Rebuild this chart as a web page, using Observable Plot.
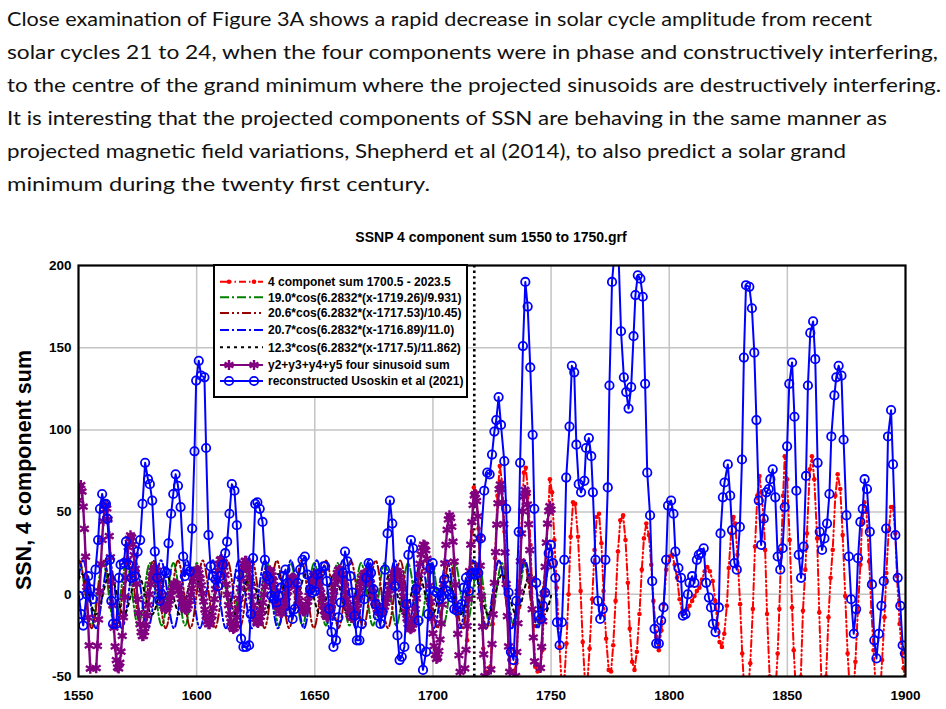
<!DOCTYPE html>
<html><head><meta charset="utf-8">
<script src="https://cdn.jsdelivr.net/npm/d3@7"></script>
<script src="https://cdn.jsdelivr.net/npm/@observablehq/plot@0.6"></script>
<style>
html,body{margin:0;padding:0;background:#fff;}
body{width:946px;height:709px;overflow:hidden;position:relative;}
#para{position:absolute;left:0;top:0;}
#title{position:absolute;left:0;top:229px;width:982px;text-align:center;font-family:"Liberation Sans",Arial,sans-serif;font-weight:bold;font-size:14px;color:#000;}
#chart{position:absolute;left:0;top:245px;}
</style></head><body>
<svg id="para" width="946" height="205"></svg>
<div id="title">SSNP 4 component sum 1550 to 1750.grf</div>
<div id="chart"></div>
<script>
// ---------- text ----------
const paraLines = [
 "Close examination of Figure 3A shows a rapid decrease in solar cycle amplitude from recent",
 "solar cycles 21 to 24, when the four components were in phase and constructively interfering,",
 "to the centre of the grand minimum where the projected sinusoids are destructively interfering.",
 "It is interesting that the projected components of SSN are behaving in the same manner as",
 "projected magnetic field variations, Shepherd et al (2014), to also predict a solar grand",
 "minimum during the twenty first century."
];
const paraEnds = [872, 938, 941, 887, 846, 430];
const legendLabels = [
 "4 componet sum 1700.5 - 2023.5",
 "19.0*cos(6.2832*(x-1719.26)/9.931)",
 "20.6*cos(6.2832*(x-1717.53)/10.45)",
 "20.7*cos(6.2832*(x-1716.89)/11.0)",
 "12.3*cos(6.2832*(x-1717.5)/11.862)",
 "y2+y3+y4+y5 four sinusoid sum",
 "reconstructed Usoskin et al (2021)"
];
const yTitle = "SSN, 4 component sum";
const xTicks = [1550,1600,1650,1700,1750,1800,1850,1900];
const yTicks = [-50,0,50,100,150,200];
const markerYear = [1717.5];

// ---------- reconstructed Usoskin et al (2021) ----------
const usoYears = [1550.2,1551.1,1552,1553.4,1554.1,1555.1,1556.1,1557.2,1558.3,1559.1,1560,1560.9,1561.6,1562.2,1563.3,1563.9,1564.6,1566,1567.1,1567.8,1569.2,1570.1,1571.3,1572.3,1573.7,1575,1576.1,1577.1,1578.2,1579.4,1580.2,1581.2,1582.3,1583.3,1584.3,1585.2,1586.6,1587.3,1588.1,1589.2,1590.1,1591.1,1592.1,1593.2,1594.3,1595,1596,1597.1,1598.1,1599.1,1599.8,1600.9,1601.9,1603.3,1604,1605,1605.9,1606.9,1608,1609,1610,1611.1,1612.1,1612.9,1613.9,1614.9,1616,1617,1618,1618.8,1619.8,1621,1622.2,1622.9,1623.9,1624.8,1625.7,1626.7,1627.9,1628.9,1629.7,1630.7,1631.7,1632.8,1633.8,1634.6,1635.6,1636.6,1637.6,1638.6,1639.4,1640.6,1641.5,1642.7,1643.8,1644.8,1645.8,1646.9,1648,1648.9,1650,1651.1,1652.3,1653.7,1654.4,1655.1,1656.1,1657.1,1657.9,1659,1660,1661,1661.9,1662.8,1663.8,1665,1665.9,1666.8,1667.8,1668.9,1669.9,1670.9,1671.8,1672.8,1673.8,1674.8,1675.7,1676.7,1677.8,1678.6,1679.7,1680.8,1681.8,1682.8,1683.9,1685,1685.9,1686.8,1687.9,1688.9,1689.6,1690.7,1691.6,1692.8,1693.9,1694.6,1695.8,1697.1,1698,1698.9,1699.9,1700.6,1701.7,1702.8,1703.8,1704.8,1705.9,1706.9,1708,1709,1710.1,1711.2,1712.2,1713,1714,1715.3,1716.1,1716.9,1717.9,1719.2,1720.3,1721.7,1723,1724,1725,1726,1726.8,1727.8,1728.8,1730.2,1731,1732,1733,1734.1,1735.3,1736.3,1736.9,1738.1,1739.1,1740.1,1741.2,1742.2,1742.9,1743.7,1744.7,1745.7,1746.6,1747.5,1749,1749.9,1750.8,1751.8,1752.5,1753.6,1754.6,1755.6,1756.4,1757.8,1758.8,1759.8,1760.7,1761.7,1762.7,1764.1,1764.8,1766,1767,1767.7,1768.8,1769.8,1770.8,1771.9,1773,1774,1774.7,1775.8,1776.8,1777.8,1779.6,1780.8,1781.8,1782.8,1783.9,1784.9,1785.7,1786.7,1787.8,1788.8,1789.8,1790.7,1791.9,1792.8,1793.8,1794.5,1795.6,1796.6,1797.6,1798.7,1799.5,1800.8,1801.8,1802.6,1803.9,1805,1805.8,1806.9,1807.9,1808.6,1809.7,1810.7,1811.7,1812.5,1813.5,1814.6,1815.6,1816.8,1817.7,1818.5,1819.6,1821,1821.7,1822.7,1823.4,1824.8,1825.8,1826.6,1827.6,1828.6,1829.9,1830.8,1831.6,1832.5,1833.9,1835,1836,1836.9,1837.9,1838.9,1840,1841.1,1842.1,1842.8,1843.8,1844.9,1845.9,1847,1848,1848.9,1849.9,1850.8,1852,1853,1853.8,1854.8,1855.8,1856.9,1857.9,1858.7,1859.7,1860.9,1861.8,1862.8,1863.7,1864.7,1865.7,1866.8,1867.8,1868.6,1869.9,1870.7,1871.7,1872.9,1873.8,1875,1876,1877,1878.1,1879.1,1879.9,1880.9,1881.9,1882.7,1883.7,1884.9,1885.8,1886.8,1887.7,1888.7,1889.8,1890.8,1891.8,1892.6,1893.9,1894.7,1895.7,1896.7,1897.8,1898.8,1899.8];
const usoSSN = [-1,-12,-19,0,11,3,-3,15,33,52,61,55,55,46,21,-4,-18,-18,10,18,19,32,18,10,11,26,33,55,80,70,67,57,26,10,-4,0,14,13,31,49,61,73,66,53,23,11,15,14,40,87,130,142,133,132,89,36,17,11,9,5,11,18,25,32,49,67,63,42,12,-27,-32,-32,-31,-12,22,55,56,52,44,21,11,9,-1,-3,-5,-1,4,11,15,7,-11,-15,-9,7,15,21,23,12,3,1,2,12,13,17,17,8,-9,-23,-32,-28,-14,-5,13,26,20,11,1,-13,-28,-28,-18,-3,10,19,13,3,-6,-13,-18,-11,15,37,57,43,5,-25,-40,-38,-32,-6,24,33,28,3,-16,-33,-46,-35,-12,16,19,2,1,-3,-1,9,2,0,-2,-9,-10,-8,-6,4,10,2,12,13,12,13,34,63,74,73,85,99,106,120,103,81,52,1,-35,-40,-4,38,80,151,190,175,138,97,52,7,-13,-15,-7,1,25,30,19,10,-17,-31,-17,21,71,102,139,135,91,67,62,69,89,95,84,62,21,-4,-15,-9,21,65,127,190,207,240,160,132,123,113,126,157,182,194,192,181,128,74,48,8,-21,-30,-30,-16,-8,21,54,57,49,26,16,10,-13,-12,0,7,11,7,21,24,25,28,7,-2,-8,-18,-23,-8,37,59,68,79,60,39,19,15,41,82,144,188,187,174,147,106,57,30,46,62,64,70,76,59,23,15,28,53,90,128,141,108,63,24,10,29,72,127,159,166,143,80,38,27,34,43,61,96,121,132,139,133,94,48,23,-3,-24,-9,22,44,52,70,64,38,6,-28,-39,-24,-7,8,40,96,112,79,36,10,-7,-31,-36];

// ---------- 4 component sum (red) ----------
const sumYears = [1714.5,1715.5,1716.5,1717.3,1718.3,1719.3,1720.3,1721.3,1722.3,1723.3,1724.3,1725.3,1726.3,1727.3,1728.3,1729.3,1730.3,1731.3,1732.3,1733.3,1734.3,1735.3,1736.3,1737.3,1738.5,1739.3,1740.3,1741.3,1742.3,1743.3,1744.3,1745.3,1746.3,1747.3,1748.5,1749.5,1750.4,1751.4,1752.4,1753.6,1754.6,1755.5,1756.5,1757.4,1758.3,1759.3,1760.2,1761.4,1762.5,1763.4,1764.5,1765.4,1766.3,1767.4,1768.4,1769.3,1770.3,1771.3,1772.2,1773.3,1774.4,1775.4,1776.3,1777.3,1778.3,1779.3,1780.5,1781.5,1782.5,1783.3,1784.3,1785.3,1786.3,1787.4,1788.4,1789.3,1790.3,1791.4,1792.4,1793.3,1794.6,1795.6,1796.7,1797.7,1798.8,1800.2,1801.3,1802.3,1803.3,1804.4,1805.5,1806.5,1807.6,1808.6,1809.7,1810.7,1811.7,1812.8,1813.9,1815,1816.1,1817.2,1818.4,1819.5,1820.4,1821.3,1822.3,1823.3,1824.4,1825.2,1826.2,1827.2,1827.9,1828.9,1830,1830.9,1831.9,1833,1834.3,1835.4,1836.3,1837.3,1838.2,1839,1840,1840.6,1841.4,1842.5,1843.5,1844.7,1845.9,1846.6,1847.4,1848.2,1848.9,1849.9,1851,1852,1852.7,1853.7,1854.8,1855.7,1856.6,1857.6,1858.3,1859.5,1860.4,1861.4,1862.6,1863.5,1864.4,1865.4,1866.4,1867.4,1868.3,1869.2,1870.3,1871.3,1872.4,1873.4,1874.5,1875.5,1876.6,1877.7,1878.8,1879.8,1880.9,1881.6,1882.6,1883.5,1884.6,1885.6,1886.5,1887.5,1888.6,1889.5,1890.1,1891.1,1891.9,1892.9,1893.9,1894.7,1895.7,1896.4,1897.5,1898.5,1899.2,1900.2];
const sumVals = [-28,2,38,65,62,40,4,-33,-47,-48,-44,-18,22,60,78,68,38,-2,-40,-47,-48,-42,-8,38,74,77,62,30,-10,-44,-47,-46,-34,2,42,70,62,33,4,-32,-58,-55,-30,0,35,56,55,35,2,-29,-57,-53,-33,-3,27,47,49,31,2,-27,-46,-47,-31,-4,26,45,48,33,7,-21,-41,-46,-35,-12,15,34,43,36,18,-4,-26,-34,-22,-6,15,23,24,18,10,-3,-11,-10,-9,-7,-4,-1,2,4,9,14,16.5,14,8,-4,-18,-29,-32,-24,-7,16,37,47,43,24,-6,-36,-62,-66,-42,-9,29,60,72,62,45,27,-12,-50,-70,-66,-36,-9,27,60,84,70,33,-8,-34,-62,-68,-50,-10,15,37,76,84,70,34,-11,-52,-70,-50,-14,10,27,60,73,64,36,-1,-36,-62,-68,-41,-11,18,43,56,50,20,-11,-34,-60,-68,-55,-40,-14,13,39,53,53,37,11,-18,-36,-45,-60];

// ---------- y2+y3+y4+y5 four sinusoid sum (purple), half-year samples, points below -50 not drawn ----------
const sinSumYears = [1550,1550.5,1551,1551.5,1552,1552.5,1553,1553.5,1554,1554.5,1555,1557.5,1558,1558.5,1559,1559.5,1560,1560.5,1561,1561.5,1562,1562.5,1563,1563.5,1564,1564.5,1565,1565.5,1566,1566.5,1567,1567.5,1568,1568.5,1569,1569.5,1570,1570.5,1571,1571.5,1572,1572.5,1573,1573.5,1574,1574.5,1575,1575.5,1576,1576.5,1577,1577.5,1578,1578.5,1579,1579.5,1580,1580.5,1581,1581.5,1582,1582.5,1583,1583.5,1584,1584.5,1585,1585.5,1586,1586.5,1587,1587.5,1588,1588.5,1589,1589.5,1590,1590.5,1591,1591.5,1592,1592.5,1593,1593.5,1594,1594.5,1595,1595.5,1596,1596.5,1597,1597.5,1598,1598.5,1599,1599.5,1600,1600.5,1601,1601.5,1602,1602.5,1603,1603.5,1604,1604.5,1605,1605.5,1606,1606.5,1607,1607.5,1608,1608.5,1609,1609.5,1610,1610.5,1611,1611.5,1612,1612.5,1613,1613.5,1614,1614.5,1615,1615.5,1616,1616.5,1617,1617.5,1618,1618.5,1619,1619.5,1620,1620.5,1621,1621.5,1622,1622.5,1623,1623.5,1624,1624.5,1625,1625.5,1626,1626.5,1627,1627.5,1628,1628.5,1629,1629.5,1630,1630.5,1631,1631.5,1632,1632.5,1633,1633.5,1634,1634.5,1635,1635.5,1636,1636.5,1637,1637.5,1638,1638.5,1639,1639.5,1640,1640.5,1641,1641.5,1642,1642.5,1643,1643.5,1644,1644.5,1645,1645.5,1646,1646.5,1647,1647.5,1648,1648.5,1649,1649.5,1650,1650.5,1651,1651.5,1652,1652.5,1653,1653.5,1654,1654.5,1655,1655.5,1656,1656.5,1657,1657.5,1658,1658.5,1659,1659.5,1660,1660.5,1661,1661.5,1662,1662.5,1663,1663.5,1664,1664.5,1665,1665.5,1666,1666.5,1667,1667.5,1668,1668.5,1669,1669.5,1670,1670.5,1671,1671.5,1672,1672.5,1673,1673.5,1674,1674.5,1675,1675.5,1676,1676.5,1677,1677.5,1678,1678.5,1679,1679.5,1680,1680.5,1681,1681.5,1682,1682.5,1683,1683.5,1684,1684.5,1685,1685.5,1686,1686.5,1687,1687.5,1688,1688.5,1689,1689.5,1690,1690.5,1691,1691.5,1692,1692.5,1693,1693.5,1694,1694.5,1695,1695.5,1696,1696.5,1697,1697.5,1698,1698.5,1699,1699.5,1700,1700.5,1701,1701.5,1702,1702.5,1703,1703.5,1704,1704.5,1705,1705.5,1706,1706.5,1707,1707.5,1708,1708.5,1709,1709.5,1710,1710.5,1711,1711.5,1713.5,1714,1714.5,1715,1715.5,1716,1716.5,1717,1717.5,1718,1718.5,1719,1719.5,1720,1720.5,1721,1721.5,1722,1724.5,1725,1725.5,1726,1726.5,1727,1727.5,1728,1728.5,1729,1729.5,1730,1730.5,1731,1731.5,1732,1732.5,1735,1735.5,1736,1736.5,1737,1737.5,1738,1738.5,1739,1739.5,1740,1740.5,1741,1741.5,1742,1742.5,1743,1745.5,1746,1746.5,1747,1747.5,1748,1748.5,1749,1749.5,1750];
const sinSumVals = [57.2,64.6,66.4,62.5,53.3,39.8,22.9,4.5,-14.1,-31.1,-45.2,-44.9,-31.4,-15.3,1.8,18.4,33.1,44.5,51.8,54.3,52.2,45.6,35.4,22.5,8.0,-6.7,-20.3,-31.7,-40.0,-44.5,-45.1,-41.7,-34.9,-25.3,-13.9,-1.7,10.1,20.5,28.6,33.8,35.8,34.6,30.4,23.8,15.5,6.3,-3.0,-11.3,-18.2,-23.0,-25.4,-25.3,-22.9,-18.7,-13.0,-6.5,0.0,6.0,10.8,14.3,16.0,16.1,14.5,11.6,7.9,3.7,-0.5,-4.1,-6.9,-8.5,-8.9,-8.1,-6.2,-3.7,-0.8,2.1,4.5,6.0,6.5,6.1,4.8,2.7,0.1,-2.7,-5.4,-7.6,-9.0,-9.4,-8.6,-6.7,-3.9,-0.3,3.7,7.6,11.1,13.7,15.0,14.6,12.8,9.6,5.5,0.6,-4.4,-9.3,-13.4,-16.5,-18.1,-18.1,-16.4,-13.1,-8.5,-2.9,3.1,9.0,14.3,18.4,21.0,21.4,19.9,16.6,11.8,6.0,-0.3,-6.6,-12.2,-16.8,-19.8,-21.1,-20.5,-18.1,-14.0,-8.7,-2.6,3.7,9.6,14.7,18.5,20.3,20.3,18.4,14.9,10.2,4.7,-1.1,-6.6,-11.3,-14.9,-17.0,-17.4,-16.3,-13.6,-9.8,-5.2,-0.2,4.6,8.9,12.2,14.1,14.6,13.7,11.4,8.1,4.2,0.0,-4.0,-7.4,-10.0,-11.4,-11.5,-10.4,-8.3,-5.3,-1.8,1.7,5.0,7.7,9.5,10.2,9.7,8.2,5.8,2.8,-0.6,-3.9,-6.8,-9.0,-10.3,-10.4,-9.4,-7.3,-4.4,-0.9,2.7,6.3,9.2,11.3,12.3,12.0,10.5,8.0,4.7,0.9,-3.0,-6.8,-10.0,-12.4,-13.6,-13.6,-12.4,-10.0,-6.6,-2.5,1.8,6.1,10.0,12.9,14.8,15.2,14.3,12.2,9.2,5.5,1.4,-2.8,-6.7,-10.0,-12.5,-14.0,-14.3,-13.5,-11.6,-8.8,-5.3,-1.5,2.5,6.2,9.4,11.5,12.7,13.0,12.5,11.2,9.2,6.7,3.9,0.9,-2.1,-4.8,-7.2,-9.2,-10.5,-11.2,-11.3,-10.6,-9.3,-7.5,-5.1,-2.8,-0.1,2.6,5.4,8.1,10.4,12.4,13.7,14.2,13.9,12.6,10.4,7.2,3.3,-1.2,-5.9,-10.5,-14.7,-18.1,-20.3,-21.2,-20.6,-18.3,-14.3,-9.0,-2.5,4.6,11.9,18.6,24.3,28.3,30.2,29.8,26.8,21.6,14.2,5.2,-4.6,-14.6,-23.8,-31.5,-36.8,-39.3,-38.5,-34.5,-27.5,-17.7,-6.2,6.3,18.8,30.1,39.2,45.5,48.0,46.5,41.1,32.0,19.9,5.7,-9.4,-24.1,-37.1,-47.2,-45.1,-33.8,-19.3,-2.9,14.1,30.2,44.0,54.3,60.2,61.0,56.7,47.5,34.0,17.4,-1.1,-19.7,-36.5,-49.8,-45.7,-30.3,-12.2,7.0,25.7,42.4,55.4,63.9,66.8,64.0,55.8,42.7,25.5,6.3,-13.3,-31.7,-47.2,-49.7,-35.1,-17.6,1.4,20.1,37.0,50.5,59.6,63.4,61.7,54.6,42.6,26.9,9.2,-9.1,-26.3,-40.8,-44.8,-32.0,-16.4,0.3,16.7,31.4,43.0,50.6,53.6,51.6];

// ---------- the four sinusoids: end points and crests/troughs ----------
const y2Years = [1550,1550.43,1555.40,1560.36,1565.33,1570.30,1575.26,1580.23,1585.19,1590.16,1595.12,1600.09,1605.05,1610.02,1614.98,1619.95,1624.92,1629.88,1634.85,1639.81,1644.78,1649.74,1654.71,1659.67,1664.64,1669.61,1674.57,1679.54,1684.50,1689.47,1694.43,1699.40,1704.36,1709.33,1714.29,1719.26,1724.22,1729.19,1734.16,1739.12,1744.09,1749.05,1750];
const y2Vals = [18.3,19,-19,19,-19,19,-19,19,-19,19,-19,19,-19,19,-19,19,-19,19,-19,19,-19,19,-19,19,-19,19,-19,19,-19,19,-19,19,-19,19,-19,19,-19,19,-19,19,-19,19,15.7];
const y3Years = [1550,1550.33,1555.56,1560.78,1566.01,1571.23,1576.46,1581.68,1586.91,1592.13,1597.36,1602.58,1607.81,1613.03,1618.26,1623.48,1628.71,1633.93,1639.16,1644.38,1649.61,1654.83,1660.06,1665.28,1670.51,1675.73,1680.96,1686.18,1691.41,1696.63,1701.86,1707.08,1712.31,1717.53,1722.76,1727.98,1733.21,1738.43,1743.66,1748.88,1750];
const y3Vals = [20.2,20.6,-20.6,20.6,-20.6,20.6,-20.6,20.6,-20.6,20.6,-20.6,20.6,-20.6,20.6,-20.6,20.6,-20.6,20.6,-20.6,20.6,-20.6,20.6,-20.6,20.6,-20.6,20.6,-20.6,20.6,-20.6,20.6,-20.6,20.6,-20.6,20.6,-20.6,20.6,-20.6,20.6,-20.6,20.6,16.1];
const y4Years = [1550,1551.89,1557.39,1562.89,1568.39,1573.89,1579.39,1584.89,1590.39,1595.89,1601.39,1606.89,1612.39,1617.89,1623.39,1628.89,1634.39,1639.89,1645.39,1650.89,1656.39,1661.89,1667.39,1672.89,1678.39,1683.89,1689.39,1694.89,1700.39,1705.89,1711.39,1716.89,1722.39,1727.89,1733.39,1738.89,1744.39,1749.89,1750];
const y4Vals = [9.8,20.7,-20.7,20.7,-20.7,20.7,-20.7,20.7,-20.7,20.7,-20.7,20.7,-20.7,20.7,-20.7,20.7,-20.7,20.7,-20.7,20.7,-20.7,20.7,-20.7,20.7,-20.7,20.7,-20.7,20.7,-20.7,20.7,-20.7,20.7,-20.7,20.7,-20.7,20.7,-20.7,20.7,20.7];
const y5Years = [1550,1551.43,1557.36,1563.29,1569.23,1575.16,1581.09,1587.02,1592.95,1598.88,1604.81,1610.74,1616.67,1622.60,1628.54,1634.47,1640.40,1646.33,1652.26,1658.19,1664.12,1670.05,1675.98,1681.91,1687.85,1693.78,1699.71,1705.64,1711.57,1717.50,1723.43,1729.36,1735.29,1741.22,1747.16,1750];
const y5Vals = [8.9,12.3,-12.3,12.3,-12.3,12.3,-12.3,12.3,-12.3,12.3,-12.3,12.3,-12.3,12.3,-12.3,12.3,-12.3,12.3,-12.3,12.3,-12.3,12.3,-12.3,12.3,-12.3,12.3,-12.3,12.3,-12.3,12.3,-12.3,12.3,-12.3,12.3,-12.3,-0.8];

// ---------- styles ----------
const C = {red:"#ff0000", green:"#008000", brown:"#990000", blue:"#0000ff", black:"#000000", purple:"#800080", grid:"#c4c4c4"};
const dashes = {red:"7,3,1.5,3,1.5,3", green:"9,3,2,3", brown:"9,3,2,3,2,3", blue:"9,3,2,3", black:"3,4"};

const toRows = (xs, ys) => xs.map((x, i) => ({x, y: ys[i]}));
const uso = toRows(usoYears, usoSSN);
const sum4 = toRows(sumYears, sumVals);
const sinSum = toRows(sinSumYears, sinSumVals);
const y2 = toRows(y2Years, y2Vals), y3 = toRows(y3Years, y3Vals), y4 = toRows(y4Years, y4Vals), y5 = toRows(y5Years, y5Vals);

// ---------- paragraph ----------
const para = d3.select("#para");
paraLines.forEach((t, i) => {
  para.append("text").attr("x", 7).attr("y", 26 + i * 33)
    .attr("font-family", "Lato, 'Open Sans', sans-serif").attr("font-size", 19.5)
    .attr("fill", "#111").attr("textLength", paraEnds[i] - 7).attr("lengthAdjust", "spacingAndGlyphs")
    .text(t);
});

// ---------- chart ----------
const W = 946, H = 464;
const chart = Plot.plot({
  width: W, height: H,
  marginLeft: 78, marginRight: 41, marginTop: 20, marginBottom: 33,
  style: {fontFamily: "'Liberation Sans', Arial, sans-serif", background: "#fff", color: "#000"},
  x: {domain: [1550, 1900]},
  y: {domain: [-50, 200]},
  marks: [
    Plot.gridX({ticks: xTicks.slice(1, -1), stroke: C.grid, strokeOpacity: 1, strokeWidth: 1.5}),
    Plot.gridY({ticks: yTicks.slice(1, -1), stroke: C.grid, strokeOpacity: 1, strokeWidth: 1.5}),
    Plot.ruleX(markerYear, {stroke: C.black, strokeWidth: 2.6, strokeDasharray: "2.4,3.2"}),
    Plot.line(y2, {x: "x", y: "y", stroke: C.green, strokeWidth: 2, strokeDasharray: dashes.green, curve: "monotone-x", clip: true}),
    Plot.line(y3, {x: "x", y: "y", stroke: C.brown, strokeWidth: 2, strokeDasharray: dashes.brown, curve: "monotone-x", clip: true}),
    Plot.line(y4, {x: "x", y: "y", stroke: C.blue, strokeWidth: 2, strokeDasharray: dashes.blue, curve: "monotone-x", clip: true}),
    Plot.line(y5, {x: "x", y: "y", stroke: C.black, strokeWidth: 2, strokeDasharray: dashes.black, curve: "monotone-x", clip: true}),
    Plot.line(sum4, {x: "x", y: "y", stroke: C.red, strokeWidth: 2, strokeDasharray: dashes.red, clip: true}),
    Plot.dot(sum4, {x: "x", y: "y", r: 2.3, fill: C.red, stroke: "none", clip: true}),
    Plot.line(sinSum, {x: "x", y: "y", stroke: C.purple, strokeWidth: 2.4, clip: true}),
    Plot.dot(sinSum, {x: "x", y: "y", symbol: "asterisk", r: 4.8, stroke: C.purple, strokeWidth: 2.4, clip: true}),
    Plot.line(uso, {x: "x", y: "y", stroke: C.blue, strokeWidth: 2, clip: true}),
    Plot.dot(uso, {x: "x", y: "y", r: 4.2, stroke: C.blue, strokeWidth: 1.8, fill: "none", clip: true}),
    Plot.frame({stroke: "#000", strokeWidth: 2.2}),
    Plot.axisX({ticks: xTicks, tickSize: 0, tickPadding: 14, tickFormat: d => String(d), label: null, fontSize: 13.5, fontWeight: "bold"}),
    Plot.axisY({ticks: yTicks, tickSize: 0, tickPadding: 7, tickFormat: d => String(d), label: null, fontSize: 13.5, fontWeight: "bold"})
  ]
});
document.getElementById("chart").appendChild(chart);

const svg = d3.select(chart);
svg.append("text")
  .attr("transform", "translate(25,225) rotate(-90)")
  .attr("text-anchor", "middle").attr("dominant-baseline", "middle")
  .attr("font-family", "'Liberation Sans', Arial, sans-serif").attr("font-weight", "bold").attr("font-size", 21.5)
  .attr("fill", "#000").text(yTitle);

// ---------- legend (inside plot frame) ----------
const lg = svg.append("g").attr("font-family", "'Liberation Sans', Arial, sans-serif").attr("text-anchor", "start");
lg.append("rect").attr("x", 214).attr("y", 20).attr("width", 253).attr("height", 132)
  .attr("fill", "#fff").attr("stroke", "#000").attr("stroke-width", 2);
const rowY = [36.7, 52.3, 68, 85, 102.3, 120, 136];
const legendStyle = [
  {c: C.red, dash: dashes.red, mark: "dot"},
  {c: C.green, dash: dashes.green},
  {c: C.brown, dash: dashes.brown},
  {c: C.blue, dash: dashes.blue},
  {c: C.black, dash: dashes.black},
  {c: C.purple, dash: null, mark: "asterisk"},
  {c: C.blue, dash: null, mark: "circle"}
];
legendLabels.forEach((lab, i) => {
  const y = rowY[i], s = legendStyle[i];
  lg.append("line").attr("x1", 220).attr("x2", 263).attr("y1", y).attr("y2", y)
    .attr("stroke", s.c).attr("stroke-width", 2).attr("stroke-dasharray", s.dash);
  [229, 254].forEach(mx => {
    if (s.mark === "dot") lg.append("circle").attr("cx", mx).attr("cy", y).attr("r", 2.3).attr("fill", s.c);
    if (s.mark === "circle") lg.append("circle").attr("cx", mx).attr("cy", y).attr("r", 4.2).attr("fill", "none").attr("stroke", s.c).attr("stroke-width", 1.8);
    if (s.mark === "asterisk") lg.append("path").attr("transform", `translate(${mx},${y})`)
      .attr("d", d3.symbol(d3.symbolAsterisk, Math.PI * 4.8 * 4.8)()).attr("fill", "none").attr("stroke", s.c).attr("stroke-width", 2.4);
  });
  lg.append("text").attr("x", 268).attr("y", y).attr("dy", "0.36em").attr("text-anchor", "start")
    .attr("font-size", 12).attr("font-weight", "bold").attr("fill", "#000").text(lab);
});
</script>
</body></html>
